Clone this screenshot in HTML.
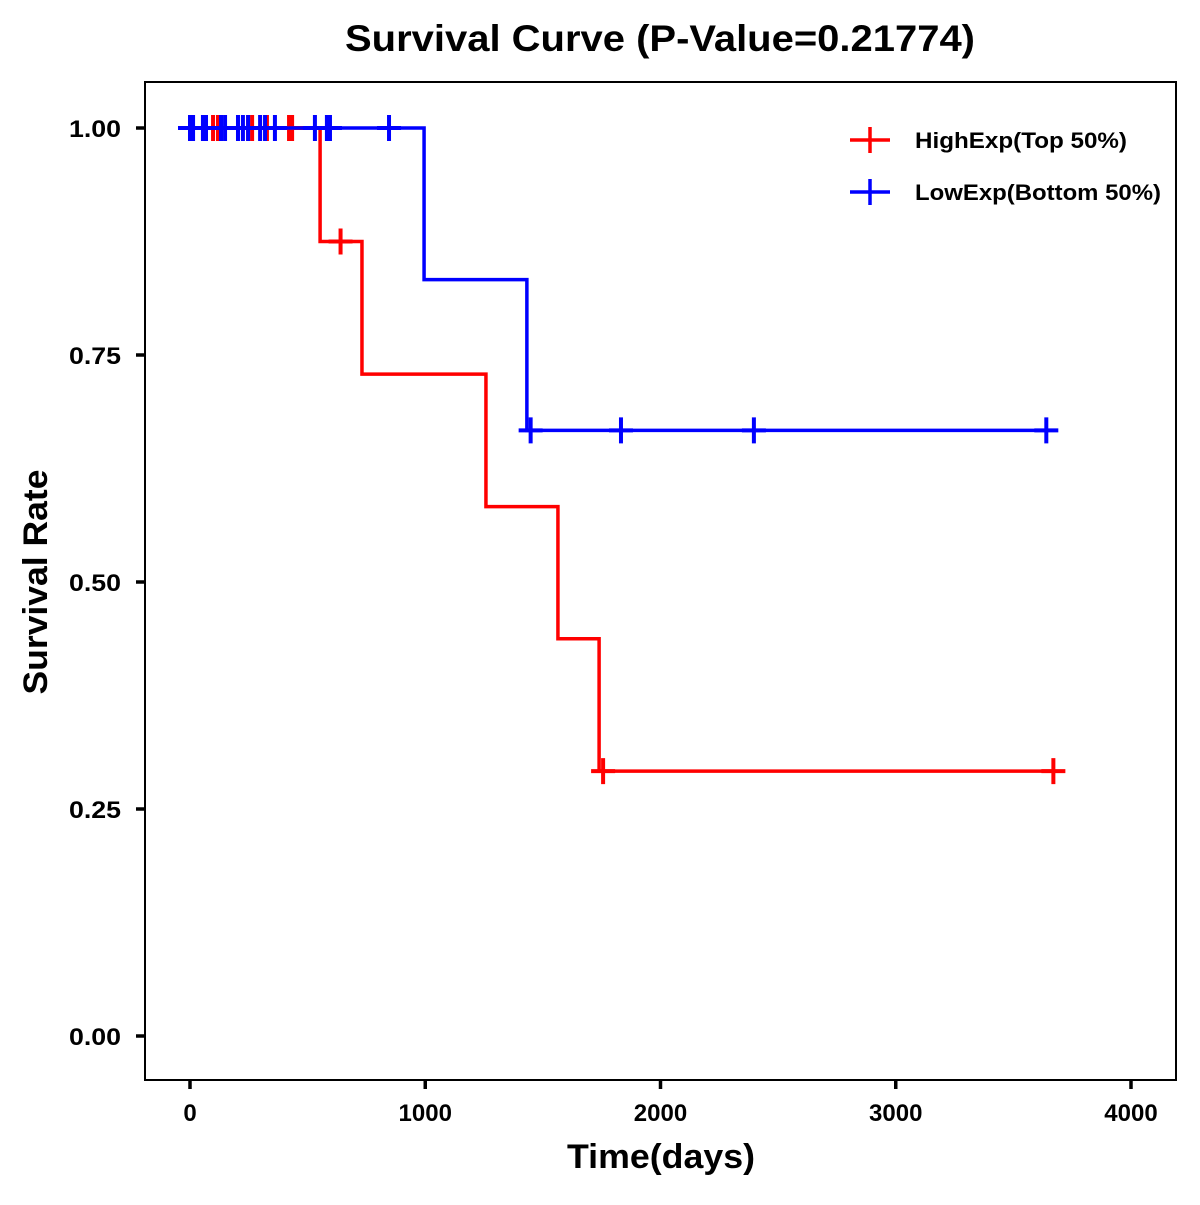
<!DOCTYPE html>
<html><head><meta charset="utf-8"><style>
body{margin:0;background:#fff}
svg text{font-family:"Liberation Sans",Arial,sans-serif;font-weight:bold;fill:#000}
</style></head><body>
<svg id="chart" width="1200" height="1200" viewBox="0 0 1200 1200" xmlns="http://www.w3.org/2000/svg">
<rect width="1200" height="1200" fill="#fff"/>
<text x="660" y="51" font-size="37" text-anchor="middle" textLength="630" lengthAdjust="spacingAndGlyphs">Survival Curve (P-Value=0.21774)</text>
<rect x="145" y="82" width="1031" height="998" fill="none" stroke="#000" stroke-width="2"/>
<g id="xaxis"></g>
<g id="yaxis"></g>
<text x="661" y="1168" font-size="34" text-anchor="middle" textLength="188" lengthAdjust="spacingAndGlyphs">Time(days)</text>
<text x="47" y="582" font-size="34" text-anchor="middle" textLength="225" lengthAdjust="spacingAndGlyphs" transform="rotate(-90 47 582)">Survival Rate</text>
<g id="series"></g>
<g>
<g>
<path d="M850 140H890M870 127V153" stroke="#f00" stroke-width="3.5"/>
<text x="915" y="148" font-size="22" textLength="212" lengthAdjust="spacingAndGlyphs">HighExp(Top 50%)</text></g>
<g>
<path d="M850 192H890M870 179V205" stroke="#00f" stroke-width="3.5"/>
<text x="915" y="200" font-size="22" textLength="246" lengthAdjust="spacingAndGlyphs">LowExp(Bottom 50%)</text></g>
</g>
</svg>
<script>
const xTicks=[0,1000,2000,3000,4000];
const yTicks=[0,0.25,0.5,0.75,1];
const yTickLabels=["0.00","0.25","0.50","0.75","1.00"];
const highTimes=[0,553,731,1258,1564,1739,3670];
const highSurv=[1,0.875,0.729,0.583,0.4375,0.2917,0.2917];
const highCensor=[98,119,247,264,327,421,434,640,1756,3670];
const lowTimes=[0,995,1432,3650];
const lowSurv=[1,0.833,0.667,0.667];
const lowCensor=[0,13,55,68,132,149,204,225,247,298,319,361,531,582,595,846,1448,1832,2397,3640];
const xs=t=>190+t*0.23525;
const ys=v=>1036-v*908;
const NS="http://www.w3.org/2000/svg";
function mk(tag,attrs,parent){const e=document.createElementNS(NS,tag);for(const k in attrs)e.setAttribute(k,attrs[k]);parent.appendChild(e);return e;}
const xa=document.getElementById('xaxis'),ya=document.getElementById('yaxis'),sg=document.getElementById('series');
xTicks.forEach(t=>{
 const l=mk('line',{x1:xs(t),x2:xs(t),y1:1080,y2:1089,stroke:'#000','stroke-width':3.5},xa);
 
 
 const tx=mk('text',{x:xs(t),y:1121,'font-size':24,'text-anchor':'middle'},xa);tx.textContent=t;
 
 
});
yTicks.forEach((v,i)=>{
 const l=mk('line',{x1:136,x2:145,y1:ys(v),y2:ys(v),stroke:'#000','stroke-width':3.5},ya);
 
 
 const tx=mk('text',{x:121,y:ys(v)+9,'font-size':24,'text-anchor':'end',textLength:52,lengthAdjust:'spacingAndGlyphs'},ya);tx.textContent=yTickLabels[i];
 
 
});
function stepAt(times,surv,t){let s=surv[0];for(let i=0;i<times.length;i++){if(times[i]<=t)s=surv[i];}return s;}
function draw(times,surv,cens,color,name){
 let d='M'+xs(times[0])+' '+ys(surv[0]);
 for(let i=1;i<times.length;i++){d+='H'+xs(times[i])+'V'+ys(surv[i]);}
 const p=mk('path',{d:d,fill:'none',stroke:color,'stroke-width':3.5},sg);
 
 
 cens.forEach(t=>{
  const x=xs(t),y=ys(stepAt(times,surv,t));
  const c=mk('path',{d:'M'+(x-12)+' '+y+'H'+(x+12)+'M'+x+' '+(y-13)+'V'+(y+13),stroke:color,'stroke-width':4},sg);
  
  
 });
}
draw(highTimes,highSurv,highCensor,'#f00','high-exp');
draw(lowTimes,lowSurv,lowCensor,'#00f','low-exp');
</script>
</body></html>
